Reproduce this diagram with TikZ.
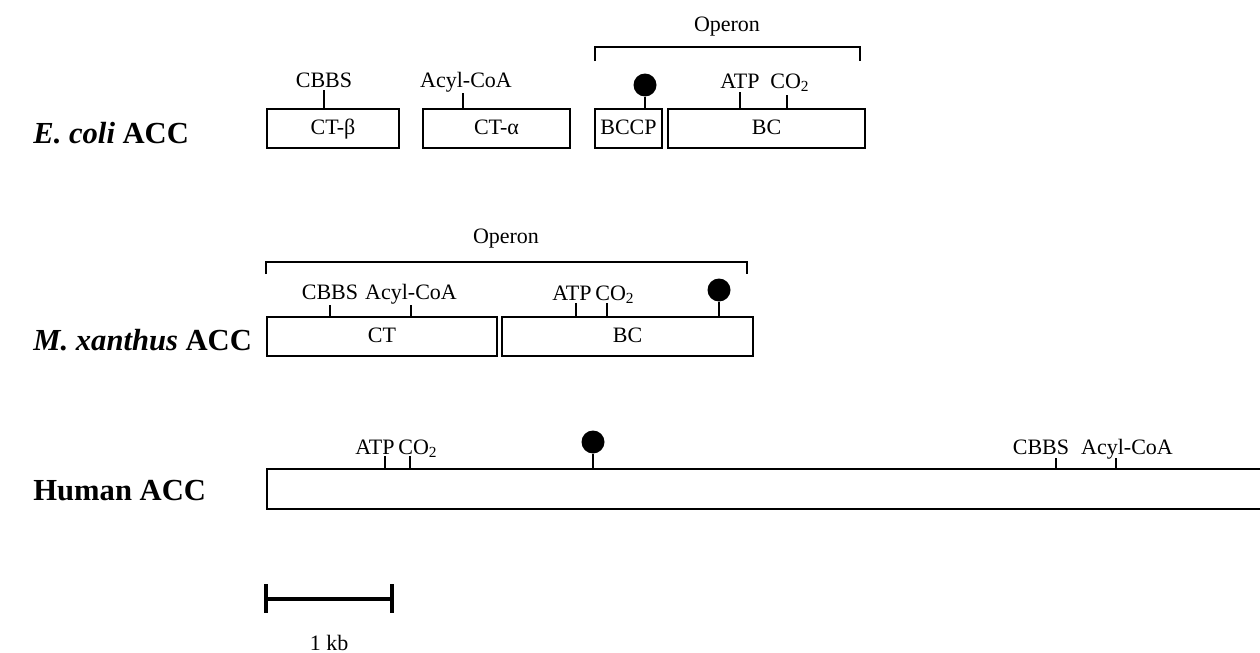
\documentclass[tikz,border=0pt]{standalone}
\usepackage{fontspec}
\setmainfont{Liberation Serif}
\usetikzlibrary{positioning}

\newcommand{\genefont}{\fontsize{11}{13}\selectfont}
\newcommand{\rowfont}{\fontsize{15.3}{18}\selectfont\bfseries}

\tikzset{
  genebox/.style={draw, line width=1pt, minimum height=19.5pt, inner sep=0pt,
    font=\genefont, text height=1.5ex, text depth=.25ex},
  site/.style={anchor=base, font=\genefont, inner sep=0pt},
  tick/.style={line width=0.8pt},
  pin/.style={circle, fill=black, minimum size=11.5pt, inner sep=0pt},
  rowlabel/.style={anchor=base west, font=\rowfont, inner sep=0pt},
  bracket/.style={line width=1pt},
}

\begin{document}
\begin{tikzpicture}[x=0.5pt, y=-0.5pt]
  \useasboundingbox (0,0) rectangle (1260,653);

  % Row labels
  \node[rowlabel] (ecoli) at (33,143) {\textit{E. coli} ACC};
  \node[rowlabel] (mxan)  at (33,350) {\textit{M. xanthus} ACC};
  \node[rowlabel] (human) at (33,500) {Human ACC};

  % E. coli ACC
  \node[genebox, minimum width=66pt]   (ctb)  at (333,128.5)   {CT-β};
  \node[genebox, minimum width=73.5pt] (cta)  at (496.5,128.5) {CT-α};
  \node[genebox, minimum width=33.5pt] (bccp) at (628.5,128.5) {BCCP};
  \node[genebox, minimum width=98.5pt] (bca)  at (766.5,128.5) {BC};

  \node[site] (ecbbs) at (324,87) {CBBS};
  \node[site] (ecoa)  at (466,87) {Acyl-CoA};
  \node[site] (eatp)  at (740,88) {ATP};
  \node[site] (eco)   at (790,88) {CO\textsubscript{2}};
  \draw[tick] (324,90) -- (324,109);
  \draw[tick] (463,93) -- (463,109);
  \draw[tick] (740,92) -- (740,109);
  \draw[tick] (787,95) -- (787,109);

  \node[pin] (epin) at (645,85) {};
  \draw[tick] (epin) -- (bccp.north -| epin);

  \draw[bracket] (595,61) -- (595,47) -- (860,47) -- (860,61);
  \node[site] (eop) at (727,32) {Operon};

  % M. xanthus ACC
  \node[genebox, minimum width=115pt]   (ct)  at (382,336.5)   {CT};
  \node[genebox, minimum width=125.5pt] (bcb) at (627.5,336.5) {BC};

  \node[site] (mcbbs) at (330,299) {CBBS};
  \node[site] (mcoa)  at (411,299) {Acyl-CoA};
  \node[site] (matp)  at (572,300) {ATP};
  \node[site] (mco)   at (615,300) {CO\textsubscript{2}};
  \draw[tick] (330,305) -- (330,317);
  \draw[tick] (411,305) -- (411,317);
  \draw[tick] (576,303) -- (576,317);
  \draw[tick] (607,303) -- (607,317);

  \node[pin] (mpin) at (719,290) {};
  \draw[tick] (mpin) -- (bcb.north -| mpin);

  \draw[bracket] (266,274) -- (266,262) -- (747,262) -- (747,274);
  \node[site] (mop) at (506,243) {Operon};

  % Human ACC
  \draw[line width=1pt] (1265,469) -| (267,509) -- (1265,509);

  \node[site] (hatp)  at (375,454)  {ATP};
  \node[site] (hco)   at (418,454)  {CO\textsubscript{2}};
  \node[site] (hcbbs) at (1041,454) {CBBS};
  \node[site] (hcoa)  at (1127,454) {Acyl-CoA};
  \draw[tick] (385,456) -- (385,469);
  \draw[tick] (410,456) -- (410,469);
  \draw[tick] (1056,458) -- (1056,469);
  \draw[tick] (1116,458) -- (1116,469);

  \node[pin] (hpin) at (593,442) {};
  \draw[tick] (hpin) -- (593,469);

  % Scale bar
  \coordinate (sbl) at (266,599);
  \coordinate (sbr) at (392,599);
  \draw[line width=2pt] (sbl) -- (sbr);
  \draw[line width=2pt] (266,584) -- (266,613);
  \draw[line width=2pt] (392,584) -- (392,613);
  \node[site] (kb) at (329,650) {1 kb};
\end{tikzpicture}
\end{document}
